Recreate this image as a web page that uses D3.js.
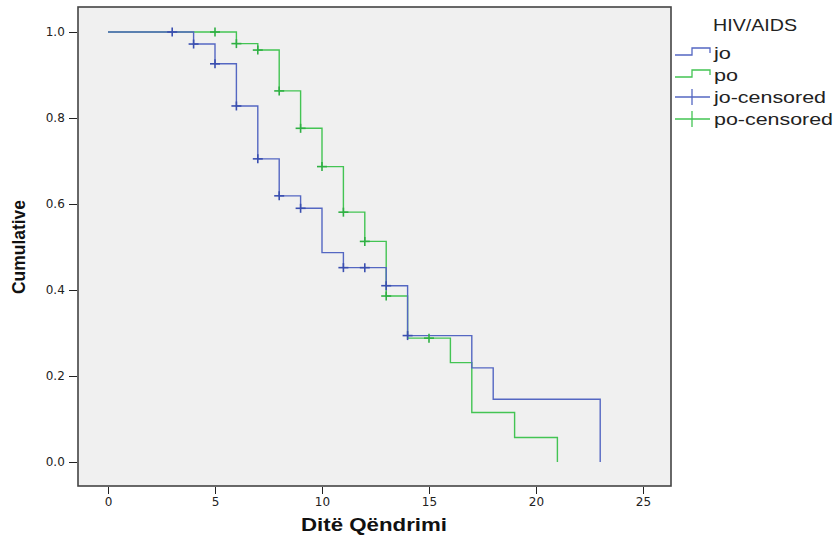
<!DOCTYPE html>
<html>
<head>
<meta charset="utf-8">
<script src="https://cdn.jsdelivr.net/npm/d3@7"></script>
<style>
body{margin:0;background:#fff;}
svg{display:block;font-family:"Liberation Sans",Arial,sans-serif;}
</style>
</head>
<body>
<svg id="chart" width="837" height="543"></svg>
<script>
// Data (Kaplan-Meier style cumulative survival)
const joTimes   = [0, 4, 5, 6, 7, 8, 9, 10, 11, 13, 14, 17, 18, 23];
const joValues  = [1.0, 0.972, 0.926, 0.828, 0.705, 0.619, 0.590, 0.487, 0.452, 0.410, 0.294, 0.219, 0.146, 0.0];
const joCensorT = [3, 4, 5, 6, 7, 8, 9, 11, 12, 13, 14];
const joCensorV = [1.0, 0.972, 0.926, 0.828, 0.705, 0.619, 0.590, 0.452, 0.452, 0.410, 0.294];

const poTimes   = [0, 6, 7, 8, 9, 10, 11, 12, 13, 14, 16, 17, 19, 21];
const poValues  = [1.0, 0.973, 0.958, 0.863, 0.776, 0.687, 0.581, 0.513, 0.386, 0.288, 0.231, 0.115, 0.057, 0.0];
const poCensorT = [5, 6, 7, 8, 9, 10, 11, 12, 13, 15];
const poCensorV = [1.0, 0.973, 0.958, 0.863, 0.776, 0.687, 0.581, 0.513, 0.386, 0.288];

const xTicks = [0, 5, 10, 15, 20, 25];
const yTicks = [0.0, 0.2, 0.4, 0.6, 0.8, 1.0];
const legendTitle = "HIV/AIDS";
const legendLabels = ["jo", "po", "jo-censored", "po-censored"];
const xTitle = "Ditë Qëndrimi";
const yTitle = "Cumulative";

const blue = "#5467c2", green = "#43c453";

const svg = d3.select("#chart");
const box = {left: 78, top: 7, right: 671, bottom: 486};

const x = d3.scaleLinear().domain([0, 25]).range([108, 643]);
const y = d3.scaleLinear().domain([0, 1]).range([462, 32]);

// plot background
svg.append("rect").attr("x", box.left).attr("y", box.top)
  .attr("width", box.right - box.left).attr("height", box.bottom - box.top)
  .attr("fill", "#f0f0f0").attr("stroke", "#444").attr("stroke-width", 1.6);

// axes
const xAxis = d3.axisBottom(x).tickValues(xTicks).tickFormat(d3.format("d")).tickSize(7).tickSizeOuter(0);
const gx = svg.append("g").attr("transform", `translate(0,${box.bottom + 1})`).call(xAxis);
gx.select(".domain").remove();
gx.selectAll("line").attr("stroke", "#222");
gx.selectAll("text").attr("font-family", "DejaVu Sans").attr("font-size", 12).attr("fill", "#222").attr("dy", "0.75em");

const yAxis = d3.axisLeft(y).tickValues(yTicks).tickFormat(d3.format(".1f")).tickSize(8).tickSizeOuter(0);
const gy = svg.append("g").attr("transform", `translate(${box.left - 1},0)`).call(yAxis);
gy.select(".domain").remove();
gy.selectAll("line").attr("stroke", "#222");
gy.selectAll("text").attr("font-family", "DejaVu Sans").attr("font-size", 12).attr("fill", "#222").attr("dx", "-0.1em");

// titles
svg.append("text").attr("x", 374).attr("y", 531).attr("text-anchor", "middle")
  .attr("font-size", 19).attr("font-weight", "bold").attr("fill", "#111")
  .attr("textLength", 146).attr("lengthAdjust", "spacingAndGlyphs").text(xTitle);
svg.append("text").attr("transform", "translate(25,247) rotate(-90)").attr("text-anchor", "middle")
  .attr("font-size", 19).attr("font-weight", "bold").attr("fill", "#111")
  .attr("textLength", 94).attr("lengthAdjust", "spacingAndGlyphs").text(yTitle);

// step curves
const line = d3.line().x(d => x(d[0])).y(d => y(d[1])).curve(d3.curveStepAfter);
function drawCurve(times, vals, color) {
  const pts = times.map((t, i) => [t, vals[i]]);
  svg.append("path").datum(pts).attr("d", line)
    .attr("fill", "none").attr("stroke", color).attr("stroke-width", 1.4);
}
drawCurve(poTimes, poValues, green);
drawCurve(joTimes, joValues, blue);

function drawCensor(ts, vs, color) {
  const g = svg.append("g");
  ts.forEach((t, i) => {
    const cx = x(t), cy = y(vs[i]);
    g.append("line").attr("x1", cx - 5).attr("x2", cx + 5).attr("y1", cy).attr("y2", cy)
      .attr("stroke", color).attr("stroke-width", 1.6);
    g.append("line").attr("x1", cx).attr("x2", cx).attr("y1", cy - 4.5).attr("y2", cy + 4.5)
      .attr("stroke", color).attr("stroke-width", 1.6);
  });
}
drawCensor(poCensorT, poCensorV, "#2fb043");
drawCensor(joCensorT, joCensorV, "#3a4fb0");

// legend
const lg = svg.append("g");
const legW = {"HIV/AIDS": 84, "jo": 17, "po": 24, "jo-censored": 112, "po-censored": 119};
lg.append("text").attr("x", 713).attr("y", 31).attr("font-size", 16.5).attr("fill", "#222")
  .attr("textLength", legW[legendTitle]).attr("lengthAdjust", "spacingAndGlyphs").text(legendTitle);
const ly = [53, 75, 97, 119];
const lcol = [blue, green, blue, green];
legendLabels.forEach((lab, i) => {
  const yy = ly[i];
  if (i < 2) {
    lg.append("path").attr("d", `M675,${yy + 2}H692V${yy - 5}H710V${yy}`)
      .attr("fill", "none").attr("stroke", lcol[i]).attr("stroke-width", 1.3);
  } else {
    lg.append("line").attr("x1", 675).attr("x2", 710).attr("y1", yy).attr("y2", yy)
      .attr("stroke", lcol[i]).attr("stroke-width", 1.3);
    lg.append("line").attr("x1", 692).attr("x2", 692).attr("y1", yy - 8).attr("y2", yy + 8)
      .attr("stroke", lcol[i]).attr("stroke-width", 1.3);
  }
  lg.append("text").attr("x", 714).attr("y", yy + 6).attr("font-size", 16.5).attr("fill", "#222")
    .attr("textLength", legW[lab]).attr("lengthAdjust", "spacingAndGlyphs").text(lab);
});
</script>
</body>
</html>
